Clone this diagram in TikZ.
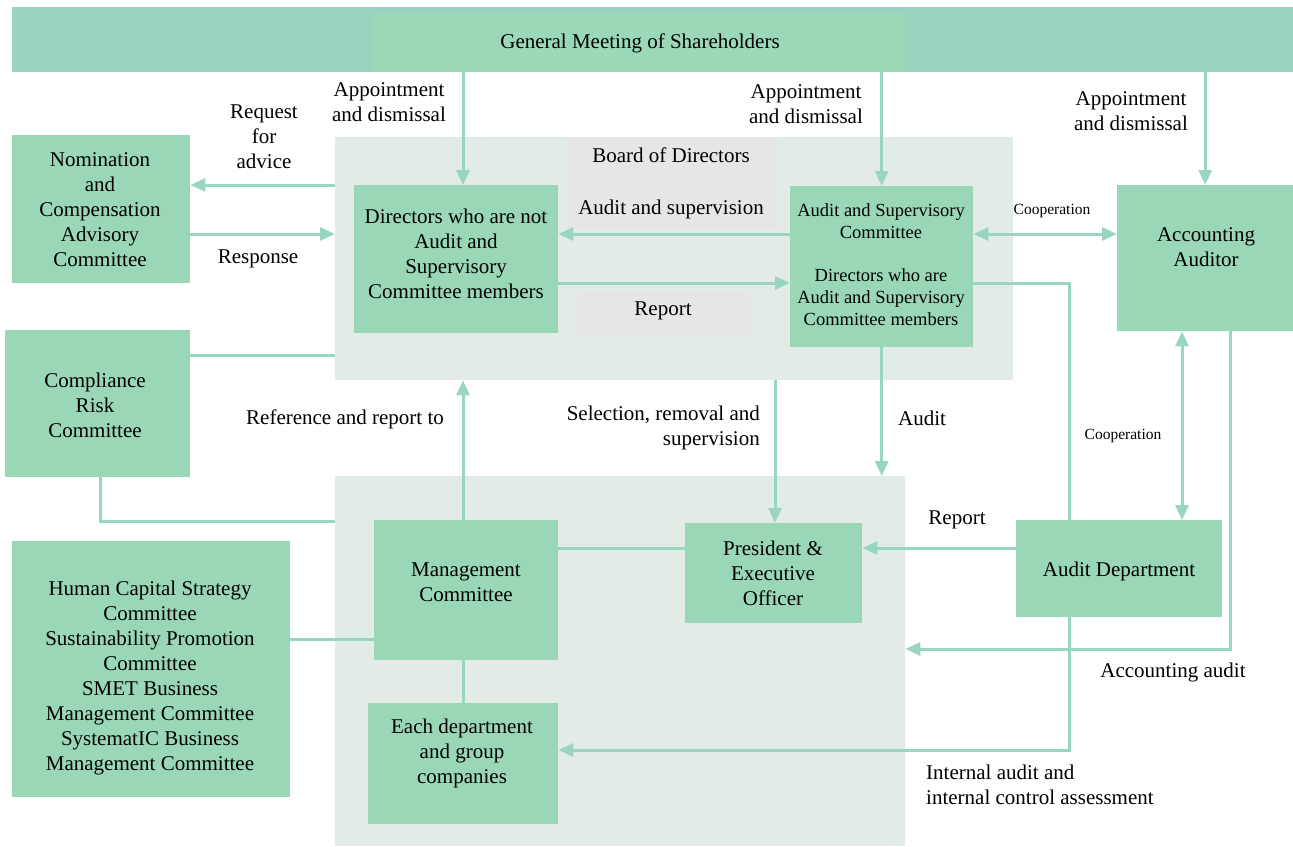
\documentclass[tikz,border=0pt]{standalone}
\usepackage{fontspec}
\setmainfont{Liberation Serif}
\usetikzlibrary{arrows.meta}
\definecolor{barC}{HTML}{99D4C3}
\definecolor{gmsC}{HTML}{9BD8B8}
\definecolor{boxC}{HTML}{99D7B6}
\definecolor{lineC}{HTML}{99D6C2}
\definecolor{regC}{HTML}{E2EBE6}
\definecolor{greyC}{HTML}{E6E6E6}
\tikzset{
 box/.style={fill=boxC, draw=none, inner sep=0pt, anchor=north west},
 region/.style={fill=regC, draw=none, inner sep=0pt, anchor=north west},
 greybox/.style={fill=greyC, draw=none, inner sep=0pt, anchor=north west},
 txt/.style={inner sep=0pt, yshift=-2pt, align=center, font=\fontsize{21}{25}\selectfont},
 smalltxt/.style={inner sep=0pt, yshift=-1.5pt, align=center, font=\fontsize{18.5}{22}\selectfont},
 tinytxt/.style={inner sep=0pt, yshift=-2pt, font=\fontsize{15.5}{18}\selectfont},
 conn/.style={draw=lineC, line width=3pt},
 arr/.style={conn, -{Triangle[length=15pt,width=13pt]}},
 darr/.style={conn, {Triangle[length=15pt,width=13pt]}-{Triangle[length=15pt,width=13pt]}},
}
\begin{document}
\begin{tikzpicture}[x=1pt,y=-1pt]
\useasboundingbox (0,0) rectangle (1293,846);
% top bar
\node[box, fill=barC, minimum width=1281pt, minimum height=65pt] (gmsbar) at (12,7) {};
\node[box, fill=gmsC, minimum width=532pt, minimum height=59pt] (gms) at (373,13) {};
\node[txt] (gmst) at (640,41) {General Meeting of Shareholders};
% regions
\node[region, minimum width=678pt, minimum height=243pt] (board) at (335,137) {};
\node[region, minimum width=570pt, minimum height=370pt] (mreg) at (335,476) {};
\node[greybox, minimum width=211pt, minimum height=92pt] (bodg) at (567,137) {};
\node[greybox, minimum width=173pt, minimum height=45pt] (repg) at (577,292) {};
\node[txt] (bodt) at (671,153) {Board of Directors};
\node[txt] (audsup) at (671,207) {Audit and supervision};
\node[txt] (rept) at (663,309) {Report};
% boxes
\node[box, minimum width=204pt, minimum height=148pt] (dir) at (354,185) {};
\node[box, minimum width=183pt, minimum height=161pt] (asc) at (790,186) {};
\node[box, minimum width=178pt, minimum height=148pt] (nom) at (12,135) {};
\node[box, minimum width=185pt, minimum height=147pt] (comp) at (5,330) {};
\node[box, minimum width=176pt, minimum height=146pt] (acc) at (1117,185) {};
\node[box, minimum width=184pt, minimum height=140pt] (mc) at (374,520) {};
\node[box, minimum width=177pt, minimum height=100pt] (pres) at (685,523) {};
\node[box, minimum width=206pt, minimum height=97pt] (ad) at (1016,520) {};
\node[box, minimum width=278pt, minimum height=256pt] (hc) at (12,541) {};
\node[box, minimum width=190pt, minimum height=121pt] (each) at (368,703) {};
% box texts
\node[txt] (nomt) at (100,207.5) {Nomination\\and\\Compensation\\Advisory\\Committee};
\node[txt] (compt) at (95,403) {Compliance\\Risk\\Committee};
\node[txt] (dirt) at (456,251.5) {Directors who are not\\Audit and\\Supervisory\\Committee members};
\node[smalltxt] (asct) at (881,263.5) {Audit and Supervisory\\Committee\\[21pt]Directors who are\\Audit and Supervisory\\Committee members};
\node[txt] (acct) at (1206,245.5) {Accounting\\Auditor};
\node[txt] (mct) at (466,580.5) {Management\\Committee};
\node[txt] (prest) at (773,571.5) {President \&\\Executive\\Officer};
\node[txt] (adt) at (1119,569) {Audit Department};
\node[txt] (hct) at (150,676) {Human Capital Strategy\\Committee\\Sustainability Promotion\\Committee\\SMET Business\\Management Committee\\SystematIC Business\\Management Committee};
\node[txt] (eacht) at (462,751) {Each department\\and group\\companies};
% connector labels
\node[txt] (l1) at (389,100.5) {Appointment\\and dismissal};
\node[txt] (l2) at (806,102) {Appointment\\and dismissal};
\node[txt] (l3) at (1131,109.5) {Appointment\\and dismissal};
\node[txt] (lreq) at (264,135) {Request\\for\\advice};
\node[txt] (lresp) at (258,257) {Response};
\node[txt] (lref) at (345,417) {Reference and report to};
\node[txt, align=right, anchor=east] (lsel) at (760,425.5) {Selection, removal and\\supervision};
\node[txt] (laud) at (922,416) {Audit};
\node[tinytxt] (lcoop1) at (1052,209) {Cooperation};
\node[tinytxt] (lcoop2) at (1123,434) {Cooperation};
\node[txt] (lrep2) at (957,518) {Report};
\node[txt] (lacca) at (1173,670) {Accounting audit};
\node[txt, align=left, anchor=west] (lint) at (926,782.5) {Internal audit and\\internal control assessment};
% helper coordinates
\coordinate (xA) at (463,0);
\coordinate (yA) at (0,234);
\coordinate (yB) at (0,283);
\coordinate (yC) at (0,355);
\coordinate (yD) at (0,521);
\coordinate (xC) at (1069,0);
\coordinate (yE) at (0,750);
\coordinate (xD) at (1182,0);
\coordinate (xE) at (1230,0);
\coordinate (yF) at (0,649);
\coordinate (yG) at (0,548);
\coordinate (yH) at (0,639);
\coordinate (xF) at (100,0);
\coordinate (xG) at (775,0);
% connectors
\draw[arr] (xA |- gmsbar.south) -- (xA |- dir.north);
\draw[arr] (asc.north |- gmsbar.south) -- (asc.north);
\draw[arr] (acc.north |- gmsbar.south) -- (acc.north);
\draw[arr] (board.west |- dir.north) -- (nom.east |- dir.north);
\draw[arr] (nom.east |- yA) -- (board.west |- yA);
\draw[conn] (comp.east |- yC) -- (board.west |- yC);
\draw[conn] (xF |- comp.south) -- (xF |- yD) -- (mreg.west |- yD);
\draw[arr] (asc.west |- yA) -- (dir.east |- yA);
\draw[arr] (dir.east |- yB) -- (asc.west |- yB);
\draw[darr] (asc.east |- yA) -- (acc.west |- yA);
\draw[conn] (asc.east |- yB) -- (xC |- yB) -- (xC |- ad.north);
\draw[arr] (xC |- ad.south) -- (xC |- yE) -- (each.east |- yE);
\draw[darr] (xD |- acc.south) -- (xD |- ad.north);
\draw[arr] (xE |- acc.south) -- (xE |- yF) -- (mreg.east |- yF);
\draw[arr] (ad.west |- yG) -- (pres.east |- yG);
\draw[conn] (mc.east |- yG) -- (pres.west |- yG);
\draw[arr] (xG |- board.south) -- (xG |- pres.north);
\draw[arr] (asc.south) -- (asc.south |- mreg.north);
\draw[arr] (xA |- mc.north) -- (xA |- board.south);
\draw[conn] (hc.east |- yH) -- (mc.west |- yH);
\draw[conn] (xA |- mc.south) -- (xA |- each.north);
\end{tikzpicture}
\end{document}
